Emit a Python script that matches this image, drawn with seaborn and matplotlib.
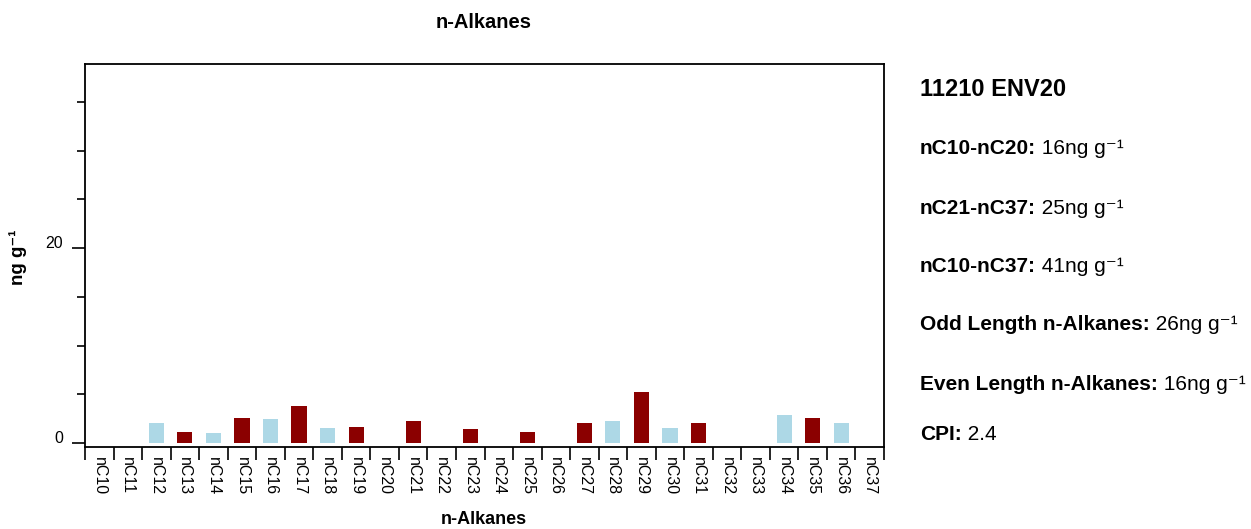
import numpy as np
import pandas as pd
import matplotlib
matplotlib.use("Agg")
import matplotlib.pyplot as plt
import seaborn as sns

# ---- data ----
categories = [f"nC{i}" for i in range(10, 38)]
values = [0, 0, 2.08, 1.1, 1.0, 2.6, 2.5, 3.8, 1.5, 1.65, 0, 2.3, 0, 1.4, 0, 1.15,
          0, 2.05, 2.25, 5.25, 1.6, 2.05, 0, 0, 2.9, 2.55, 2.05, 0]
parity = ["odd" if int(c[2:]) % 2 else "even" for c in categories]
sample_name = "11210 ENV20"
stat_labels = ["nC10-nC20:", "nC21-nC37:", "nC10-nC37:", "Odd Length n-Alkanes:",
               "Even Length n-Alkanes:", "CPI:"]
stat_values = ["16ng g\u207b\u00b9", "25ng g\u207b\u00b9", "41ng g\u207b\u00b9",
               "26ng g\u207b\u00b9", "16ng g\u207b\u00b9", "2.4"]
y_major = [0, 20]
y_minor = [5, 10, 15, 25, 30, 35]

sns.set_theme(style="white")
plt.rcParams['font.family'] = ['Liberation Sans', 'DejaVu Sans']
plt.rcParams.update({"text.color": "black", "axes.labelcolor": "black",
                     "xtick.color": "black", "ytick.color": "black"})

df = pd.DataFrame({"alkane": categories, "value": values, "parity": parity})

fig = plt.figure(figsize=(12.51, 5.29), dpi=100)
ax = fig.add_axes([85 / 1251, 1 - 447 / 529, 799 / 1251, 383 / 529])

sns.barplot(data=df, x="alkane", y="value", hue="parity", order=categories,
            palette={"odd": "#8B0000", "even": "#ADD8E6"}, dodge=False,
            width=0.53, legend=False, ax=ax, saturation=1,
            edgecolor="none", linewidth=0)

ax.set_xlim(-0.5, len(categories) - 0.5)
ax.set_ylim(-0.4, 38.9)

for s in ax.spines.values():
    s.set_visible(True)
    s.set_color("black")
    s.set_linewidth(1.3)

# y ticks
ax.set_yticks(y_major)
ax.set_yticklabels([str(v) for v in y_major], fontsize=11.5)
ax.set_yticks(y_minor, minor=True)
ax.tick_params(axis="y", which="major", direction="out", length=9.5, width=1.2,
               color="black", pad=6.5, left=True)
ax.tick_params(axis="y", which="minor", direction="out", length=5.5, width=1.2,
               color="black", left=True)
for lbl in ax.get_yticklabels():
    lbl.set_verticalalignment("baseline")

# x ticks: labels at centers, tick marks at boundaries
ax.set_xticks(range(len(categories)))
ax.set_xticklabels(categories, rotation=270, fontsize=11.5, va="top", ha="center")
ax.set_xticks(np.arange(-0.5, len(categories), 1.0), minor=True)
ax.tick_params(axis="x", which="major", length=0, pad=7, bottom=True)
ax.tick_params(axis="x", which="minor", direction="out", length=9.5, width=1.2,
               color="black", bottom=True)

ax.set_xlabel("")
ax.set_ylabel("")
fig.text(484 / 1251, 1 - 22 / 529, "n-Alkanes", ha="center", va="center",
         fontsize=14.5, fontweight="bold")
fig.text(484 / 1251, 1 - 520 / 529, "n-Alkanes", ha="center", va="center",
         fontsize=13, fontweight="bold")
fig.text(18 / 1251, 1 - 257 / 529, "ng g\u207b\u00b9", ha="center", va="center",
         rotation=90, fontsize=13.5, fontweight="bold")

# right panel
fig.text(920 / 1251, 1 - 89 / 529, sample_name, ha="left", va="center",
         fontsize=17, fontweight="bold")
ys = [149, 208, 267, 325, 384, 434]
for lab, val, yy in zip(stat_labels, stat_values, ys):
    t = fig.text(920 / 1251, 1 - yy / 529, lab, ha="left", va="center",
                 fontsize=15, fontweight="bold")
    fig.add_artist(matplotlib.text.Annotation(
        " " + val, xy=(1, 0), xycoords=t, ha="left", va="bottom", fontsize=15))

fig.savefig("out.png", dpi=100)
